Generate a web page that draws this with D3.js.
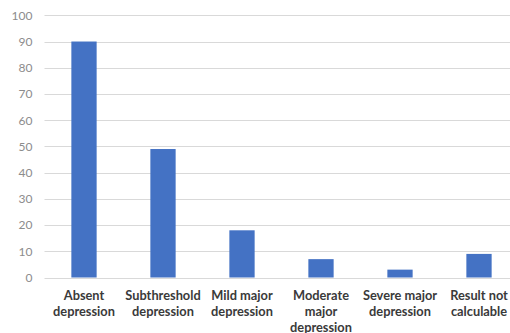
<!DOCTYPE html>
<html>
<head>
<meta charset="utf-8">
<script src="https://cdn.jsdelivr.net/npm/d3@7"></script>
<style>
  html, body { margin: 0; padding: 0; background: #fff; }
  svg { display: block; }
</style>
</head>
<body>
<svg id="chart" width="510" height="333"></svg>
<script>
// Severity categories (each label split into lines) and counts
const categories = [
  ["Absent", "depression"],
  ["Subthreshold", "depression"],
  ["Mild major", "depression"],
  ["Moderate", "major", "depression"],
  ["Severe major", "depression"],
  ["Result not", "calculable"]
];
const values = [90, 49, 18, 7, 3, 9];
const yTicks = [0, 10, 20, 30, 40, 50, 60, 70, 80, 90, 100];

const svg = d3.select("#chart");
const margin = { left: 44.5, right: 518.5, top: 15.3, bottom: 277.5 };

const keys = categories.map((c, i) => i);
const x = d3.scaleBand().domain(keys).range([margin.left, margin.right]).paddingInner(0.68).paddingOuter(0.34);
const y = d3.scaleLinear().domain([0, 100]).range([margin.bottom, margin.top]);

// gridlines
svg.append("g")
  .selectAll("line")
  .data(yTicks)
  .join("line")
  .attr("x1", margin.left)
  .attr("x2", 510)
  .attr("y1", d => Math.round(y(d)) + 0.5)
  .attr("y2", d => Math.round(y(d)) + 0.5)
  .attr("stroke", "#d9d9d9")
  .attr("stroke-width", 1);

// y axis labels
const yAxis = d3.axisLeft(y).tickValues(yTicks).tickSize(0).tickPadding(12);
svg.append("g")
  .attr("transform", `translate(${margin.left},0)`)
  .call(yAxis)
  .call(g => g.select(".domain").remove())
  .call(g => g.selectAll("text")
    .attr("fill", "#8c8c8c")
    .style("font-family", "Lato, 'Open Sans', sans-serif")
    .style("font-size", "12px"));

// bars
svg.append("g")
  .selectAll("rect")
  .data(values)
  .join("rect")
  .attr("x", (d, i) => x(i))
  .attr("width", x.bandwidth())
  .attr("y", d => y(d))
  .attr("height", d => y(0) - y(d))
  .attr("fill", "#4472c4");

// category labels
const xAxis = d3.axisBottom(x).tickSize(0).tickFormat(() => "");
const xg = svg.append("g")
  .attr("transform", `translate(0,${margin.bottom})`)
  .call(xAxis)
  .call(g => g.select(".domain").remove());

xg.selectAll(".tick").each(function(i) {
  const t = d3.select(this).append("text")
    .attr("text-anchor", "middle")
    .attr("fill", "#3a3a3a")
    .style("font-family", "Lato, 'Open Sans', sans-serif")
    .style("font-weight", "bold")
    .style("font-size", "12.8px");
  categories[i].forEach((line, k) => {
    t.append("tspan").attr("x", 0).attr("y", 22 + k * 16).text(line);
  });
});
</script>
</body>
</html>
